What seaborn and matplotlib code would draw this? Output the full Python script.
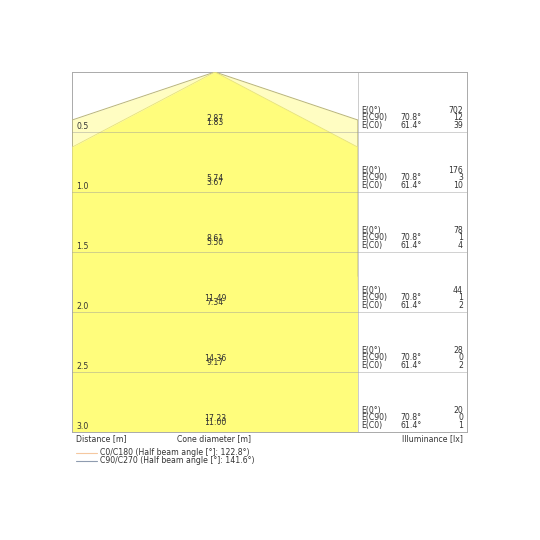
import numpy as np
import matplotlib
matplotlib.use("Agg")
import matplotlib.pyplot as plt
import seaborn as sns
import pandas as pd
from matplotlib.lines import Line2D

sns.set_style("white")
plt.rcParams['font.family'] = ['DejaVu Sans']

# ---- data ----
distances = [0.5, 1.0, 1.5, 2.0, 2.5, 3.0]
diam_c90 = ["2.87", "5.74", "8.61", "11.49", "14.36", "17.23"]
diam_c0 = ["1.83", "3.67", "5.50", "7.34", "9.17", "11.00"]
e_0 = [702, 176, 78, 44, 28, 20]
e_c90 = [12, 3, 1, 1, 0, 0]
e_c0 = [39, 10, 4, 2, 2, 1]
half_angle_c90 = 70.8
half_angle_c0 = 61.4
beam_c0 = 122.8
beam_c90 = 141.6

TXT = "#333333"
FS = 5.6
XL = 1.15
DMAX = 3.0

fig = plt.figure(figsize=(5.4, 5.4), dpi=100)
W = 540.0
ax = fig.add_axes([72 / W, 108 / W, 286 / W, 360 / W])
axr = fig.add_axes([358 / W, 108 / W, 109 / W, 360 / W])

d = np.linspace(0, DMAX, 601)
xw = np.minimum(d * np.tan(np.radians(half_angle_c90)), XL)
xn = np.minimum(d * np.tan(np.radians(half_angle_c0)), XL)

ax.fill_betweenx(d, -xw, xw, color="#fffdc2", lw=0, zorder=1)
ax.fill_betweenx(d, -xn, xn, color="#fffd7c", lw=0, zorder=2)

edge = pd.DataFrame({"x": np.concatenate([-xw[::-1], xw]), "y": np.concatenate([d[::-1], d])})
edge_n = pd.DataFrame({"x": np.concatenate([-xn[::-1], xn]), "y": np.concatenate([d[::-1], d])})
sns.lineplot(data=edge, x="x", y="y", sort=False, color="#b9b57a", lw=0.7, ax=ax, zorder=3)
sns.lineplot(data=edge_n, x="x", y="y", sort=False, color="#e6e27a", lw=0.6, ax=ax, zorder=3)

for a in (ax, axr):
    for dd in distances[:-1]:
        a.axhline(dd, color="#999999", alpha=0.45, lw=0.7, zorder=4)
    a.set_ylim(DMAX, 0)
    a.set_xticks([])
    a.set_yticks([])
    a.set_xlabel("")
    a.set_ylabel("")
    for s in a.spines.values():
        s.set_color("#aaaaaa")
        s.set_linewidth(0.7)

ax.set_xlim(-XL, XL)
axr.set_xlim(0, 1)
axr.spines["left"].set_color("#cccccc")

for i, dd in enumerate(distances):
    ax.text(-XL + 0.035, dd - 0.045, f"{dd:.1f}", fontsize=FS, color=TXT, va="center", ha="left", zorder=5)
    ax.text(0, dd - 0.11, diam_c90[i], fontsize=FS, color=TXT, va="center", ha="center", zorder=5)
    ax.text(0, dd - 0.078, diam_c0[i], fontsize=FS, color=TXT, va="center", ha="center", zorder=5)
    ys = [dd - 0.183, dd - 0.12, dd - 0.053]
    labels = ["E(0°)", "E(C90)", "E(C0)"]
    vals = [e_0[i], e_c90[i], e_c0[i]]
    angs = ["", f"{half_angle_c90}°", f"{half_angle_c0}°"]
    for y, lab, v, an in zip(ys, labels, vals, angs):
        axr.text(0.03, y, lab, fontsize=FS, color=TXT, va="center", ha="left")
        if an:
            axr.text(0.39, y, an, fontsize=FS, color=TXT, va="center", ha="left")
        axr.text(0.963, y, str(v), fontsize=FS, color=TXT, va="center", ha="right")

fy = 1 - 439 / W
fig.text(76 / W, fy, "Distance [m]", fontsize=FS, color=TXT, va="center", ha="left")
fig.text(177 / W, fy, "Cone diameter [m]", fontsize=FS, color=TXT, va="center", ha="left")
fig.text(463 / W, fy, "Illuminance [lx]", fontsize=FS, color=TXT, va="center", ha="right")

for yy, col, lab in [(452.5, "#f5c8a0", f"C0/C180 (Half beam angle [°]: {beam_c0}°)"),
                     (460.5, "#8f9cb0", f"C90/C270 (Half beam angle [°]: {beam_c90}°)")]:
    fy2 = 1 - yy / W
    fig.add_artist(Line2D([76 / W, 97 / W], [fy2, fy2], color=col, lw=0.8))
    fig.text(100 / W, fy2, lab, fontsize=FS, color=TXT, va="center", ha="left")

fig.savefig("out.png", dpi=100, facecolor="white")
